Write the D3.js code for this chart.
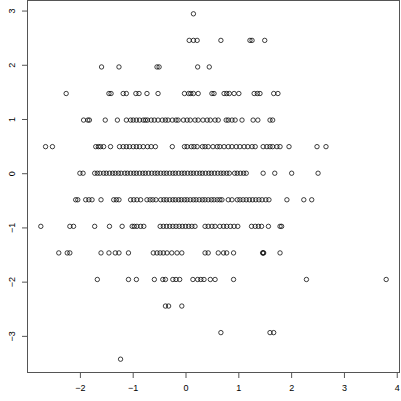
<!DOCTYPE html>
<html>
<head>
<meta charset="utf-8">
<script src="https://cdn.jsdelivr.net/npm/d3@7"></script>
<style>
  body { margin: 0; background: #fff; }
  text { font-family: "Liberation Sans", Arial, sans-serif; }
</style>
</head>
<body>
<div id="vis"></div>
<script>
const W = 401;
const H = 401;
const MARGIN = { left: 27, right: 1, top: 0, bottom: 28 };

// ############
// data: x values grouped by their (discrete) y level
// ############
const yLevels = [2.94, 2.45, 1.96, 1.47, 0.98, 0.49, 0, -0.49, -0.98, -1.47,
  -1.96, -2.45, -2.94, -3.43];

const xAt2_94 = [0.15];
const xAt2_45 = [0.07, 0.15, 0.22, 0.67, 1.22, 1.26, 1.5];
const xAt1_96 = [-1.59, -1.26, -0.54, -0.5, 0.23, 0.45];
const xAt1_47 = [-2.26, -1.45, -1.41, -1.18, -1.12, -0.94, -0.88, -0.73, -0.52,
  -0.02, 0.06, 0.1, 0.15, 0.24, 0.5, 0.54, 0.73, 0.78, 0.83, 0.92, 1.01, 1.3,
  1.36, 1.41, 1.67, 1.75];
const xAt0_98 = [-1.93, -1.85, -1.82, -1.52, -1.29, -1.12, -1.04, -0.99, -0.93,
  -0.87, -0.8, -0.76, -0.72, -0.65, -0.59, -0.52, -0.44, -0.38, -0.33, -0.25,
  -0.18, -0.14, -0.04, 0.03, 0.09, 0.18, 0.24, 0.33, 0.41, 0.47, 0.56, 0.62,
  0.77, 0.81, 0.88, 0.94, 1.07, 1.28, 1.37, 1.6, 1.65];
const xAt0_49 = [-2.65, -2.52, -1.7, -1.65, -1.61, -1.55, -1.42, -1.25, -1.18,
  -1.12, -1.06, -0.99, -0.93, -0.87, -0.8, -0.72, -0.65, -0.57, -0.25, -0.02,
  0.03, 0.11, 0.16, 0.22, 0.32, 0.37, 0.43, 0.52, 0.6, 0.65, 0.73, 0.81, 0.88,
  0.96, 1.03, 1.11, 1.18, 1.26, 1.32, 1.47, 1.54, 1.6, 1.65, 1.73, 1.79, 1.96,
  2.49, 2.66];
const xAt0 = [-2.0, -1.94, -1.72, -1.67, -1.62, -1.55, -1.5, -1.44, -1.38,
  -1.33, -1.27, -1.22, -1.15, -1.1, -1.04, -0.98, -0.93, -0.87, -0.81, -0.76,
  -0.7, -0.64, -0.58, -0.53, -0.47, -0.41, -0.36, -0.3, -0.24, -0.19, -0.13,
  -0.07, -0.02, 0.04, 0.1, 0.15, 0.21, 0.27, 0.32, 0.38, 0.44, 0.49, 0.55,
  0.61, 0.67, 0.72, 0.78, 0.83, 0.93, 0.98, 1.04, 1.1, 1.15, 1.47, 1.69, 2.01,
  2.51];
const xAtM0_49 = [-2.08, -2.04, -1.89, -1.83, -1.77, -1.6, -1.36, -1.31, -1.26,
  -1.04, -0.98, -0.92, -0.85, -0.73, -0.67, -0.62, -0.56, -0.47, -0.41, -0.36,
  -0.3, -0.24, -0.19, -0.13, -0.08, -0.02, 0.03, 0.09, 0.15, 0.2, 0.26, 0.32,
  0.37, 0.43, 0.49, 0.54, 0.6, 0.65, 0.69, 0.81, 0.88, 0.98, 1.03, 1.09, 1.15,
  1.21, 1.27, 1.33, 1.39, 1.45, 1.52, 1.58, 1.92, 2.24, 2.39];
const xAtM0_98 = [-2.74, -2.19, -2.12, -1.72, -1.44, -1.2, -1.01, -0.97, -0.92,
  -0.85, -0.79, -0.48, -0.42, -0.36, -0.3, -0.24, -0.18, -0.12, -0.06, 0.0,
  0.06, 0.12, 0.18, 0.37, 0.43, 0.5, 0.56, 0.65, 0.72, 0.78, 0.85, 0.92, 0.99,
  1.25, 1.32, 1.38, 1.44, 1.57, 1.79, 1.82];
const xAtM1_47 = [-2.4, -2.24, -2.19, -1.6, -1.45, -1.33, -1.26, -1.08, -0.61,
  -0.54, -0.48, -0.42, -0.35, -0.26, -0.16, -0.07, 0.37, 0.43, 0.62, 0.72,
  0.78, 0.91, 1.46, 1.47, 1.48, 1.79];
const xAtM1_96 = [-1.67, -1.08, -0.93, -0.59, -0.43, -0.38, -0.24, -0.18, -0.11,
  0.14, 0.23, 0.29, 0.35, 0.47, 0.56, 0.91, 2.29, 3.8];
const xAtM2_45 = [-0.38, -0.32, -0.07];
const xAtM2_94 = [0.67, 1.6, 1.67];
const xAtM3_43 = [-1.23];

const xGroups = [xAt2_94, xAt2_45, xAt1_96, xAt1_47, xAt0_98, xAt0_49, xAt0,
  xAtM0_49, xAtM0_98, xAtM1_47, xAtM1_96, xAtM2_45, xAtM2_94, xAtM3_43];

const xTicks = [-2, -1, 0, 1, 2, 3, 4];
const yTicks = [-3, -2, -1, 0, 1, 2, 3];

// flatten into points
const points = [];
yLevels.forEach((y, i) => xGroups[i].forEach((x) => points.push({ x: x, y: y })));

// ############
// draw()
// ############
const svg = d3
  .select("#vis")
  .append("svg")
  .attr("width", W)
  .attr("height", H);

// R style: data range extended by 4% each side
const xExt = d3.extent(points, (d) => d.x);
const yExt = d3.extent(points, (d) => d.y);
const xPad = (xExt[1] - xExt[0]) * 0.04;
const yPad = (yExt[1] - yExt[0]) * 0.04;

const x = d3
  .scaleLinear()
  .domain([xExt[0] - xPad, xExt[1] + xPad])
  .range([MARGIN.left, W - MARGIN.right]);
const y = d3
  .scaleLinear()
  .domain([yExt[0] - yPad, yExt[1] + yPad])
  .range([H - MARGIN.bottom, MARGIN.top]);

// x axis
svg
  .append("g")
  .attr("transform", "translate(0," + (H - MARGIN.bottom) + ")")
  .call(d3.axisBottom(x).tickValues(xTicks).tickSize(5).tickPadding(7).tickFormat(d3.format("d")))
  .call((g) => g.select(".domain").remove())
  .call((g) => g.selectAll("line").attr("stroke", "#555"))
  .call((g) => g.selectAll("text").attr("font-size", 9).attr("fill", "#000")
    .attr("font-family", "Liberation Sans, Arial, sans-serif"));

// y axis, labels rotated like R
svg
  .append("g")
  .attr("transform", "translate(" + MARGIN.left + ",0)")
  .call(d3.axisLeft(y).tickValues(yTicks).tickSize(5).tickFormat(d3.format("d")))
  .call((g) => g.select(".domain").remove())
  .call((g) => g.selectAll("line").attr("stroke", "#555"))
  .call((g) =>
    g
      .selectAll("text")
      .attr("font-size", 9)
      .attr("fill", "#000")
      .attr("font-family", "Liberation Sans, Arial, sans-serif")
      .attr("x", null)
      .attr("dy", null)
      .attr("text-anchor", "middle")
      .attr("transform", "translate(-12,0) rotate(-90)")
  );

// plot box
svg
  .append("rect")
  .attr("x", MARGIN.left + 0.5)
  .attr("y", MARGIN.top + 0.5)
  .attr("width", W - MARGIN.left - MARGIN.right - 1)
  .attr("height", H - MARGIN.top - MARGIN.bottom - 1)
  .attr("fill", "none")
  .attr("stroke", "#555")
  .attr("stroke-width", 1);

// points (open circles, pch = 1)
svg
  .append("g")
  .selectAll("circle")
  .data(points)
  .join("circle")
  .attr("cx", (d) => x(d.x))
  .attr("cy", (d) => y(d.y))
  .attr("r", 2.2)
  .attr("fill", "none")
  .attr("stroke", "#000")
  .attr("stroke-width", 0.75);
</script>
</body>
</html>
